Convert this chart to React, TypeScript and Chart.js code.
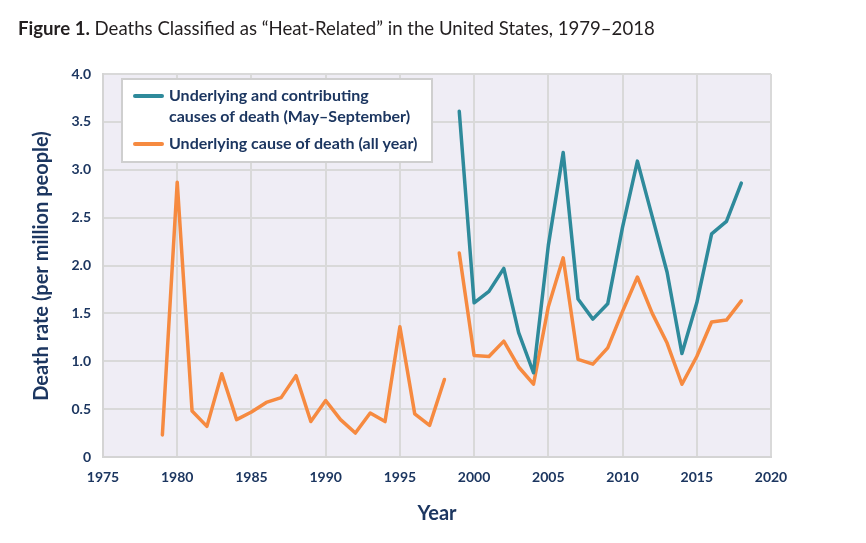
import React, { useEffect, useRef } from "react";
import { Chart, registerables } from "chart.js";

Chart.register(...registerables);

const years: number[] = [
  1979, 1980, 1981, 1982, 1983, 1984, 1985, 1986, 1987, 1988,
  1989, 1990, 1991, 1992, 1993, 1994, 1995, 1996, 1997, 1998,
  1999, 2000, 2001, 2002, 2003, 2004, 2005, 2006, 2007, 2008,
  2009, 2010, 2011, 2012, 2013, 2014, 2015, 2016, 2017, 2018,
];

const underlyingAllYear: number[] = [
  0.23, 2.87, 0.48, 0.32, 0.87, 0.39, 0.47, 0.57, 0.62, 0.85,
  0.37, 0.59, 0.39, 0.25, 0.46, 0.37, 1.36, 0.45, 0.33, 0.81,
  2.13, 1.06, 1.05, 1.21, 0.94, 0.76, 1.57, 2.08, 1.02, 0.97,
  1.14, 1.52, 1.88, 1.50, 1.19, 0.76, 1.05, 1.41, 1.43, 1.63,
];

const contribYears: number[] = [
  1999, 2000, 2001, 2002, 2003, 2004, 2005, 2006, 2007, 2008,
  2009, 2010, 2011, 2012, 2013, 2014, 2015, 2016, 2017, 2018,
];

const underlyingContrib: number[] = [
  3.61, 1.61, 1.73, 1.97, 1.30, 0.88, 2.21, 3.18, 1.65, 1.44,
  1.60, 2.40, 3.09, 2.51, 1.93, 1.08, 1.61, 2.33, 2.46, 2.86,
];

// the all-year series is not joined between these two years (method change)
const breakAfterYear = 1998;

const seriesLabels: string[][] = [
  ["Underlying and contributing", "causes of death (May\u2013September)"],
  ["Underlying cause of death (all year)"],
];

const yTicks: number[] = [0, 0.5, 1.0, 1.5, 2.0, 2.5, 3.0, 3.5, 4.0];
const xTicks: number[] = [1975, 1980, 1985, 1990, 1995, 2000, 2005, 2010, 2015, 2020];

const titleBold = "Figure 1.";
const titleRest = " Deaths Classified as \u201cHeat-Related\u201d in the United States, 1979\u20132018";
const yTitle = "Death rate (per million people)";
const xTitle = "Year";

const TEAL = "#2e8a9b";
const ORANGE = "#f68a40";
const NAVY = "#1c3660";
const FONT = "Lato, 'Open Sans', sans-serif";

export default function App() {
  const ref = useRef<HTMLCanvasElement | null>(null);

  useEffect(() => {
    if (!ref.current) return;

    const decor = {
      id: "decor",
      beforeDraw(chart: any) {
        const { ctx, chartArea } = chart;
        ctx.save();
        ctx.fillStyle = "#ffffff";
        ctx.fillRect(0, 0, chart.width, chart.height);
        ctx.fillStyle = "#efedf5";
        ctx.fillRect(chartArea.left, chartArea.top, chartArea.right - chartArea.left, chartArea.bottom - chartArea.top);
        ctx.restore();
      },
      afterDraw(chart: any) {
        const { ctx, chartArea } = chart;
        ctx.save();
        // title
        ctx.textBaseline = "alphabetic";
        ctx.textAlign = "left";
        ctx.fillStyle = "#231f20";
        ctx.font = `bold 18.6px ${FONT}`;
        ctx.fillText(titleBold, 18, 35);
        const w = ctx.measureText(titleBold).width;
        ctx.font = `18.6px ${FONT}`;
        ctx.fillText(titleRest, 18 + w, 35);
        // axis titles
        ctx.fillStyle = NAVY;
        ctx.font = `bold 20px ${FONT}`;
        ctx.textAlign = "center";
        ctx.textBaseline = "middle";
        ctx.fillText(xTitle, (chartArea.left + chartArea.right) / 2, 514);
        ctx.translate(42, 266);
        ctx.rotate(-Math.PI / 2);
        ctx.fillText(yTitle, 0, 0);
        ctx.restore();
      },
      afterDatasetsDraw(chart: any) {
        const { ctx } = chart;
        const bx = 122, by = 79, bw = 310, bh = 83;
        ctx.save();
        ctx.fillStyle = "#ffffff";
        ctx.fillRect(bx, by, bw, bh);
        ctx.strokeStyle = "#cfcfcf";
        ctx.lineWidth = 2;
        ctx.strokeRect(bx, by, bw, bh);
        const rowsY = [96, 144];
        chart.data.datasets.forEach((ds: any, i: number) => {
          const y0 = rowsY[i];
          ctx.strokeStyle = ds.borderColor;
          ctx.lineWidth = 4;
          ctx.lineCap = "round";
          ctx.beginPath();
          ctx.moveTo(135, y0);
          ctx.lineTo(162, y0);
          ctx.stroke();
          ctx.fillStyle = NAVY;
          ctx.font = `bold 16px ${FONT}`;
          ctx.textAlign = "left";
          ctx.textBaseline = "middle";
          const lines: string[] = ds.label;
          lines.forEach((t: string, j: number) => ctx.fillText(t, 169, y0 + j * 21));
        });
        ctx.restore();
      },
    };

    const chart = new Chart(ref.current, {
      type: "line",
      data: {
        datasets: [
          {
            label: seriesLabels[0] as any,
            data: contribYears.map((x, i) => ({ x, y: underlyingContrib[i] })),
            borderColor: TEAL,
            backgroundColor: TEAL,
            borderWidth: 3.5,
            pointRadius: 0,
            borderCapStyle: "round",
            borderJoinStyle: "round",
            tension: 0,
          },
          {
            label: seriesLabels[1] as any,
            data: years.map((x, i) => ({ x, y: underlyingAllYear[i] })),
            borderColor: ORANGE,
            backgroundColor: ORANGE,
            borderWidth: 3.5,
            pointRadius: 0,
            borderCapStyle: "round",
            borderJoinStyle: "round",
            tension: 0,
            segment: {
              borderColor: (c: any) => (c.p0.parsed.x === breakAfterYear ? "rgba(0,0,0,0)" : ORANGE),
            },
          },
        ],
      },
      options: {
        responsive: false,
        animation: false,
        devicePixelRatio: 1,
        layout: { padding: { top: 74, right: 95, bottom: 0, left: 0 } },
        plugins: {
          legend: { display: false },
          title: { display: false },
          tooltip: { enabled: false },
        },
        scales: {
          x: {
            type: "linear",
            min: 1975,
            max: 2020,
            afterBuildTicks: (s: any) => {
              s.ticks = xTicks.map((v) => ({ value: v }));
            },
            afterFit: (s: any) => {
              s.height = 86;
            },
            grid: { color: "#d9d9d9", lineWidth: 2, drawTicks: false },
            border: { color: "#d4d4d4", width: 2 },
            ticks: {
              padding: 12,
              color: NAVY,
              font: { family: FONT, size: 14, weight: "bold" },
              callback: (v: any) => String(v),
              maxRotation: 0,
              autoSkip: false,
            },
          },
          y: {
            min: 0,
            max: 4,
            afterBuildTicks: (s: any) => {
              s.ticks = yTicks.map((v) => ({ value: v }));
            },
            afterFit: (s: any) => {
              s.width = 103;
            },
            grid: { color: "#d9d9d9", lineWidth: 2, drawTicks: false },
            border: { color: "#d4d4d4", width: 2 },
            ticks: {
              padding: 12,
              color: NAVY,
              font: { family: FONT, size: 14, weight: "bold" },
              callback: (v: any) => (v === 0 ? "0" : Number(v).toFixed(1)),
            },
          },
        },
      },
      plugins: [decor],
    } as any);

    return () => chart.destroy();
  }, []);

  return (
    <div style={{ position: "fixed", left: 0, top: 0, width: 866, height: 543, background: "#fff" }}>
      <canvas ref={ref} width={866} height={543} />
    </div>
  );
}
